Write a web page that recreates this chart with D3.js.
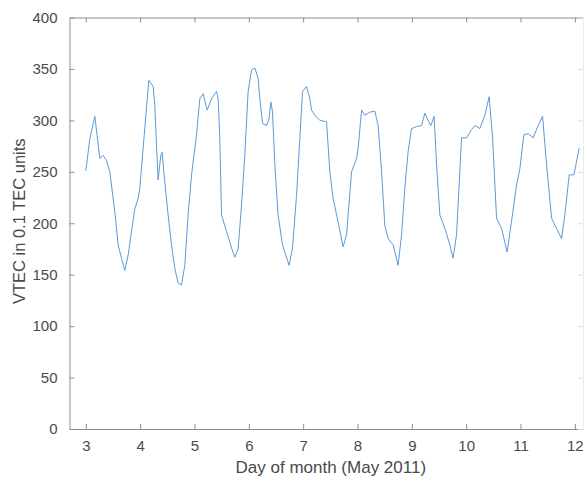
<!DOCTYPE html>
<html>
<head>
<meta charset="utf-8">
<script src="https://cdn.jsdelivr.net/npm/d3@7"></script>
<style>
  html, body { margin: 0; padding: 0; background: #fff; }
  svg { display: block; }
  text { font-family: "Liberation Sans", Arial, sans-serif; fill: #4a4a4a; }
</style>
</head>
<body>
<svg id="chart" width="584" height="479"></svg>
<script>
// ---- data ----
const days = [3.00,3.074,3.166,3.258,3.318,3.381,3.442,3.534,3.595,3.657,3.718,3.779,3.841,3.902,3.963,3.994,
  4.055,4.117,4.160,4.239,4.270,4.301,4.331,4.380,4.404,4.441,4.515,4.577,4.638,4.699,4.761,4.822,4.883,4.946,
  5.038,5.098,5.159,5.233,5.314,5.406,5.435,5.466,5.498,5.590,5.682,5.742,5.803,5.866,5.926,5.987,
  6.050,6.111,6.171,6.203,6.252,6.326,6.374,6.405,6.436,6.479,6.539,6.620,6.681,6.742,6.804,6.878,6.939,6.988,
  7.062,7.123,7.154,7.215,7.307,7.399,7.430,7.491,7.552,7.644,7.736,7.799,7.891,7.983,
  8.012,8.075,8.135,8.227,8.319,8.380,8.443,8.503,8.564,8.656,8.748,8.811,8.871,8.932,8.995,
  9.087,9.179,9.240,9.300,9.350,9.411,9.455,9.516,9.608,9.700,9.760,9.823,9.915,
  10.007,10.099,10.160,10.252,10.344,10.423,10.486,10.559,10.651,10.754,10.835,10.927,10.988,
  11.062,11.141,11.233,11.325,11.406,11.480,11.572,11.663,11.756,11.816,11.896,11.982,12.080];
const vtec = [251,282,304,263,266,261,250,211,179,166,154,169,192,214,224,234,
  273,312,339,333,315,276,242,266,269,247,208,179,156,142,140,159,208,247,
  286,321,326,310,321,328,321,283,208,192,176,167,175,218,266,328,
  349,351,341,321,297,295,302,318,308,257,208,179,169,159,176,227,282,328,
  333,321,310,305,300,299,299,250,224,201,177,189,250,263,
  273,310,305,308,309,295,250,198,185,179,159,189,234,270,292,
  294,295,307,300,295,304,257,208,195,179,166,189,283,
  283,291,295,292,305,323,283,205,195,172,202,237,253,
  286,287,283,295,304,257,205,195,185,208,247,247,273];
const xTicks = [3,4,5,6,7,8,9,10,11,12];
const yTicks = [0,50,100,150,200,250,300,350,400];
const xLabel = "Day of month (May 2011)";
const yLabel = "VTEC in 0.1 TEC units";

// ---- layout ----
const L = 69.5, R = 583, T = 17.5, B = 429;
const svg = d3.select("#chart");
const x = d3.scaleLinear().domain([2.7, 12.15]).range([L, R]);
const y = d3.scaleLinear().domain([0, 400]).range([B, T]);
const axisColor = "#8f8f8f";
const tickLen = 5;

// axes (MATLAB-style box with inward ticks)
const gx = svg.append("g").attr("transform", `translate(0,${B})`)
  .call(d3.axisBottom(x).tickValues(xTicks).tickSizeInner(-tickLen).tickSizeOuter(0).tickPadding(11).tickFormat(d3.format("d")));
const gxTop = svg.append("g").attr("transform", `translate(0,${T})`)
  .call(d3.axisTop(x).tickValues(xTicks).tickSizeInner(-tickLen).tickSizeOuter(0).tickFormat(""));
const gy = svg.append("g").attr("transform", `translate(${L},0)`)
  .call(d3.axisLeft(y).tickValues(yTicks).tickSizeInner(-tickLen).tickSizeOuter(0).tickPadding(12).tickFormat(d3.format("d")));
const gyR = svg.append("g").attr("transform", `translate(${R},0)`)
  .call(d3.axisRight(y).tickValues(yTicks).tickSizeInner(-tickLen).tickSizeOuter(0).tickFormat(""));

[gx, gxTop, gy, gyR].forEach(g => {
  g.selectAll(".domain").attr("stroke", axisColor).attr("stroke-width", 1);
  g.selectAll(".tick line").attr("stroke", axisColor).attr("stroke-width", 1);
  g.selectAll(".tick text").attr("fill", "#4a4a4a").style("font-size", "15px")
    .style("font-family", "'Liberation Sans', Arial, sans-serif");
});
gyR.select(".domain").attr("stroke", "#ececec");
gyR.selectAll(".tick line").attr("stroke", "#dcdcdc");

// line
const line = d3.line().x((d, i) => x(days[i])).y(d => y(d));
svg.append("path").datum(vtec)
  .attr("d", line)
  .attr("fill", "none")
  .attr("stroke", "#5a9bd8")
  .attr("stroke-width", 1)
  .attr("stroke-linejoin", "round");

// labels
svg.append("text")
  .attr("x", (x(3) + x(12)) / 2 + 0.5).attr("y", 473)
  .attr("text-anchor", "middle").style("font-size", "17px")
  .text(xLabel);
svg.append("text")
  .attr("transform", `translate(25,${y(200) - 2}) rotate(-90)`)
  .attr("text-anchor", "middle").style("font-size", "16.5px")
  .text(yLabel);
</script>
</body>
</html>
